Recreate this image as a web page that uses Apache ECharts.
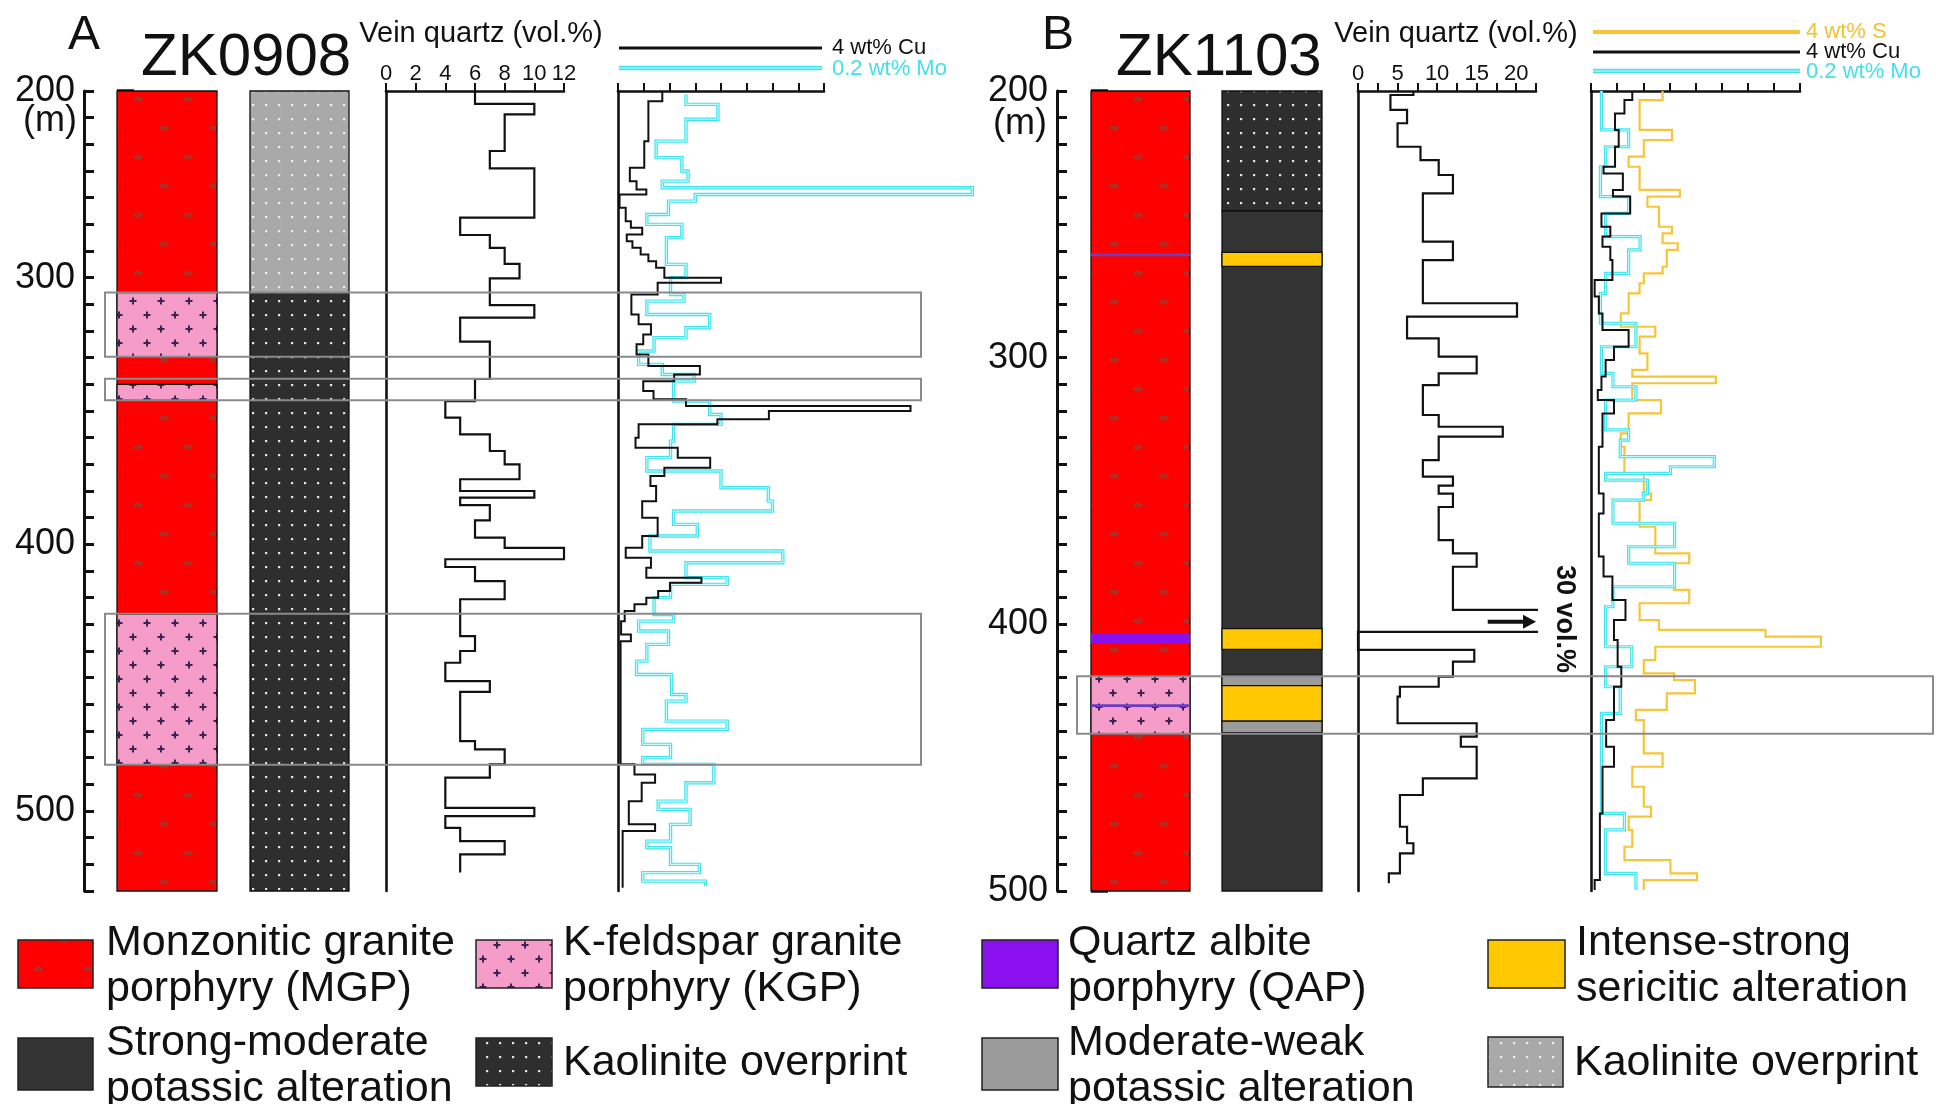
<!DOCTYPE html>
<html><head><meta charset="utf-8">
<script src="https://cdn.jsdelivr.net/npm/echarts@6/dist/echarts.min.js"></script>
<style>html,body{margin:0;padding:0;background:#fff}#c{width:1936px;height:1104px}</style>
</head><body><div id="c"></div>
<script>
// ---------------- DATA ----------------
// Depth axis labels (panel A top tick is labelled "200" in the original figure)
const depthTickA = [230, 300, 400, 500];
const depthTextA = ['200', '300', '400', '500'];
const depthTickB = [200, 300, 400, 500];
const depthTextB = ['200', '300', '400', '500'];

// Lithology / alteration columns (top, bottom, type)
const litA_top = [230, 305.6, 340, 426.3];
const litA_bot = [530, 329.7, 346, 482.7];
const litA_type = ['MGP', 'KGP', 'KGP', 'KGP'];
const altA_top = [230, 305.6];
const altA_bot = [305.6, 530];
const altA_type = ['kaolLight', 'kaolDark'];
const litB_top = [200, 260.8, 403.5, 419.5, 430];
const litB_bot = [500, 262.0, 407.0, 441.0, 431];
const litB_type = ['MGP', 'QAP2', 'QAP', 'KGP', 'QAP2'];
const altB_top = [200, 245, 260.5, 401.6, 419.1, 423, 436.3];
const altB_bot = [245, 500, 265.8, 409.4, 423, 436.3, 440.6];
const altB_type = ['kaolDark', 'strongK', 'seri', 'seri', 'weakK', 'seri', 'weakK'];

// Highlight boxes (depth ranges)
const boxA_top = [305.6, 337.9, 426.0];
const boxA_bot = [329.7, 346.0, 482.7];
const boxB_top = [419.5];
const boxB_bot = [441.0];

// Vein quartz ZK0908 (vol.%) : depth boundaries and interval values
const qA_depth = [230, 234.8, 238.8, 252.5, 259, 277.5, 284, 288.8, 294.8, 300.3, 310.3, 315, 324, 338, 346.3, 352.5, 358.8, 365, 370, 375.6, 380, 382.5, 385.3, 391, 397.5, 401.3, 405.6, 408.5, 413.8, 420.6, 434.4, 440, 444.4, 451.3, 455.3, 473.8, 476.9, 482.5, 487.5, 498.8, 501.9, 506.3, 511.3, 516.3, 523.1];
const qA_val = [6, 10, 8, 7, 10, 5, 7, 8, 9, 7, 10, 5, 7, 6, 4, 5, 7, 8, 9, 5, 10, 5, 7, 6, 8, 12, 4, 6, 8, 5, 6, 5, 4, 7, 5, 6, 8, 7, 4, 10, 4, 5, 8, 5];

// Cu ZK0908 (wt%)
const cuA_depth = [230, 233.8, 248.8, 258.8, 263.8, 266.9, 268.8, 273.8, 278.8, 281.3, 283.8, 286.3, 288.8, 291.3, 293.8, 296.3, 300, 301.9, 306.3, 313.8, 317.5, 321.3, 325, 328.8, 333.1, 336.3, 338.8, 342.5, 345.6, 348.1, 350, 353.1, 355, 360, 363.8, 367.5, 371.3, 374.4, 378.1, 383.8, 390, 396.9, 401.3, 405, 408.8, 412.5, 414.4, 417.5, 420, 422.5, 425, 428.8, 433.8, 436.3, 482.5, 486.3, 489.4, 496.3, 505, 507.5, 528.8];
const cuA_val = [0.86, 0.59, 0.51, 0.23, 0.36, 0.55, 0.03, 0.15, 0.25, 0.47, 0.17, 0.28, 0.44, 0.59, 0.74, 0.90, 2.0, 0.77, 0.26, 0.40, 0.64, 0.49, 0.36, 0.59, 1.59, 1.09, 0.49, 0.69, 1.32, 5.68, 2.93, 1.93, 0.40, 0.34, 1.16, 1.79, 0.90, 0.63, 0.74, 0.47, 0.77, 0.47, 0.15, 0.64, 0.55, 1.62, 1.01, 0.78, 0.55, 0.32, 0.13, 0.06, 0.25, 0.05, 0.32, 0.72, 0.46, 0.21, 0.72, 0.09];

// Mo ZK0908 (wt%)
const moA_depth = [231.3, 235, 240.6, 248.8, 255, 260, 263.8, 266.3, 268.8, 271.3, 276.3, 280, 285, 295, 300, 306.3, 308.8, 313.8, 318.8, 322.5, 327.5, 332.5, 336.3, 338.8, 346.3, 351.3, 355, 361.3, 367.5, 372.5, 378.8, 383.8, 387.5, 392.5, 396.9, 402.5, 406.9, 412.5, 415, 420, 426.3, 428.8, 432.5, 437.5, 443.8, 448.8, 456.3, 458.8, 466.3, 469.4, 475, 480, 482.5, 489.4, 496.3, 499.4, 505, 511.3, 513.8, 520, 523.1, 526.3, 528.1];
const moA_val = [0.066, 0.097, 0.066, 0.037, 0.062, 0.068, 0.043, 0.344, 0.075, 0.049, 0.028, 0.062, 0.047, 0.066, 0.051, 0.064, 0.028, 0.089, 0.066, 0.035, 0.020, 0.043, 0.074, 0.054, 0.089, 0.100, 0.054, 0.051, 0.028, 0.100, 0.146, 0.150, 0.054, 0.077, 0.031, 0.160, 0.066, 0.106, 0.051, 0.035, 0.054, 0.020, 0.049, 0.028, 0.018, 0.052, 0.066, 0.047, 0.106, 0.024, 0.051, 0.024, 0.093, 0.066, 0.039, 0.070, 0.051, 0.028, 0.051, 0.079, 0.024, 0.085];

// Vein quartz ZK1103 (vol.%)
const qB_depth = [200, 201.5, 207.1, 212.1, 220.9, 225.9, 231.5, 238.4, 256.5, 263.4, 279.6, 284.6, 292.8, 299.6, 305.9, 310.3, 321.5, 325.9, 329.6, 338.4, 344.6, 348, 351, 356, 368.4, 373.4, 378.4, 394.6, 402.8, 409.6, 414, 419.6, 423.4, 427.1, 437.1, 442.1, 445.9, 457.8, 464, 475.9, 482.1, 485.9, 493.4, 497.1];
const qB_val = [7, 4.1, 6.2, 5, 7.9, 10.2, 12, 8.2, 12, 8.2, 20.1, 6.2, 10.2, 15, 10.2, 8.2, 10.2, 18.3, 10.2, 8.2, 12, 10.2, 12, 10.2, 12, 15, 12, 30, 0, 14.7, 12, 10.2, 5.3, 5, 15, 13, 15, 8.2, 5.3, 6.2, 7, 5.3, 3.9];
const qB_arrowDepth = 399;

// Cu ZK1103 (wt%)
const cuB_depth = [200, 203.4, 208.4, 214.6, 220.9, 228.4, 230.9, 237.1, 239.6, 245.9, 250.9, 254.6, 258.4, 263.4, 270.9, 277.1, 283.4, 289.6, 295.9, 300.9, 307.1, 312.1, 315.9, 320.9, 333.4, 350.9, 358.4, 374.6, 382.1, 390.9, 398.4, 405.9, 415.9, 423.4, 435.9, 445.9, 453.4, 470.9, 495.9, 499.6];
const cuB_val = [0.79, 0.64, 0.46, 0.53, 0.46, 0.24, 0.61, 0.42, 0.75, 0.20, 0.37, 0.22, 0.37, 0.41, 0.07, 0.15, 0.22, 0.72, 0.44, 0.28, 0.20, 0.13, 0.44, 0.22, 0.15, 0.24, 0.15, 0.24, 0.41, 0.66, 0.44, 0.51, 0.58, 0.44, 0.29, 0.44, 0.22, 0.17, 0.07];

// Mo ZK1103 (wt%)
const moB_depth = [200, 214.6, 220.9, 228.4, 239.6, 245.9, 254.6, 259.6, 268.4, 275.9, 287.1, 295.9, 305.9, 310.9, 315.9, 327.1, 330.9, 337.1, 340.9, 343.4, 345.9, 350.9, 353.4, 362.1, 370.9, 377.1, 385.9, 393.4, 408.4, 415.9, 423.4, 433.4, 470.9, 477.1, 493.4, 499.6];
const moB_val = [0.010, 0.036, 0.014, 0.009, 0.036, 0.014, 0.047, 0.036, 0.014, 0.009, 0.043, 0.010, 0.021, 0.043, 0.014, 0.036, 0.028, 0.118, 0.076, 0.014, 0.054, 0.050, 0.021, 0.080, 0.036, 0.080, 0.021, 0.014, 0.039, 0.014, 0.028, 0.010, 0.032, 0.014, 0.043];

// S ZK1103 (wt%)
const sB_depth = [200, 203.4, 214.6, 218.4, 224.6, 228.4, 237.1, 239.6, 243.4, 250.9, 253.4, 257.1, 259.6, 265.9, 268.4, 272.1, 275.9, 283.4, 288.4, 292.1, 298.4, 304.6, 307.1, 309.6, 315.9, 320.9, 328.4, 333.4, 343.4, 350.9, 353.4, 363.4, 373.4, 377.1, 387.1, 392.1, 398.4, 402.1, 404.6, 408.4, 413.4, 418.4, 420.9, 425.9, 432.1, 435.9, 448.4, 453.4, 460.9, 468.4, 472.1, 477.1, 483.4, 488.4, 493.4, 495.9, 499.6];
const sB_val = [1.37, 0.93, 1.55, 1.01, 0.72, 0.93, 1.70, 1.08, 1.30, 1.55, 1.37, 1.66, 1.45, 1.37, 1.01, 0.93, 0.72, 0.57, 1.23, 0.93, 1.08, 0.79, 2.39, 0.79, 1.34, 0.72, 0.57, 0.64, 1.01, 1.15, 0.93, 1.23, 1.88, 1.59, 1.88, 0.93, 1.30, 3.34, 4.40, 1.23, 1.01, 1.59, 1.99, 1.45, 0.86, 1.01, 1.37, 0.79, 1.01, 1.15, 0.72, 0.79, 0.64, 1.52, 2.03, 1.01];

// ---------------- STYLE ----------------
const FONT = '"Liberation Sans", Arial, Helvetica, sans-serif';
function pat(w, h, bg, fn) {
  const c = document.createElement('canvas'); c.width = w; c.height = h;
  const x = c.getContext('2d'); x.fillStyle = bg; x.fillRect(0, 0, w, h); if (fn) fn(x);
  return { image: c, repeat: 'repeat' };
}
const FILL = {
  MGP: pat(50, 58, '#ff0000', x => { x.fillStyle = 'rgba(125,75,60,0.6)'; [[14, 12], [38, 41]].forEach(([a, b]) => { x.beginPath(); x.ellipse(a, b, 5, 2.6, 0, 0, Math.PI * 2); x.fill(); }); }),
  KGP: pat(28, 28, '#f59cc8', x => { x.strokeStyle = '#3c2456'; x.lineWidth = 2; [[7, 7], [21, 21]].forEach(([a, b]) => { x.beginPath(); x.moveTo(a - 3.5, b); x.lineTo(a + 3.5, b); x.moveTo(a, b - 3.5); x.lineTo(a, b + 3.5); x.stroke(); }); }),
  QAP: '#8a10f0',
  QAP2: '#6a3cc8',
  kaolDark: pat(13, 14, '#2e2e2e', x => { x.fillStyle = '#e6e6e6'; x.fillRect(5, 6, 2.2, 2.2); }),
  kaolLight: pat(13, 14, '#a9a9a9', x => { x.fillStyle = '#eeeeee'; x.fillRect(5, 6, 2.2, 2.2); }),
  strongK: '#333333',
  weakK: '#9b9b9b',
  seri: '#ffc800'
};
const NOSTROKE = { QAP: 1, QAP2: 1 };

// Step profile; intervals whose value runs past the axis end are left open on the right
function steps(depths, vals, maxV) {
  const pts = [];
  for (let i = 0; i < vals.length; i++) {
    pts.push([vals[i], depths[i]]);
    if (maxV != null && vals[i] > maxV) pts.push('-');
    pts.push([vals[i], depths[i + 1]]);
  }
  return pts;
}
function colData(tops, bots) { return tops.map((t, i) => [0, t, bots[i], i]); }
function colRender(types) {
  return function (params, api) {
    const t = types[api.value(3)];
    const p0 = api.coord([0, api.value(1)]), p1 = api.coord([1, api.value(2)]);
    return { type: 'rect', shape: { x: p0[0], y: p0[1], width: p1[0] - p0[0], height: p1[1] - p0[1] },
      style: { fill: FILL[t], stroke: NOSTROKE[t] ? null : '#111', lineWidth: NOSTROKE[t] ? 0 : 1.3 } };
  };
}

const TOP = 91, H = 800;
const grids = [
  { left: 117, width: 100 },  // 0 lithology A
  { left: 250, width: 99 },   // 1 alteration A
  { left: 386, width: 178 },  // 2 quartz A
  { left: 618, width: 206 },  // 3 Cu/Mo A (axis)
  { left: 1091, width: 99 },  // 4 lithology B
  { left: 1222, width: 100 }, // 5 alteration B
  { left: 1358, width: 178 }, // 6 quartz B
  { left: 1591, width: 209 }, // 7 Cu/Mo/S B (axis)
  { left: 618, width: 412 },  // 8 Cu/Mo A plotting area (double range, lets spikes overrun the axis)
  { left: 1591, width: 418 }  // 9 Cu/Mo/S B plotting area
].map(g => Object.assign({ top: TOP, height: H, containLabel: false, outerBoundsMode: 'none', show: false }, g));

const axisLine = { show: true, lineStyle: { color: '#111', width: 2.6 } };
function hiddenX(gi, max) { return { type: 'value', gridIndex: gi, min: 0, max: max, show: false }; }
function topX(gi, max, interval, labels, fmt) {
  return { type: 'value', gridIndex: gi, position: 'top', min: 0, max: max, interval: interval,
    axisLine: axisLine, splitLine: { show: false },
    axisTick: { show: true, inside: false, length: 8, lineStyle: { color: '#111', width: 2 } },
    axisLabel: { show: labels, fontSize: 22, color: '#111', fontFamily: FONT, margin: 6, formatter: fmt, showMinLabel: true, showMaxLabel: true } };
}
function depthY(gi, min, max, opts) {
  return Object.assign({ type: 'value', gridIndex: gi, inverse: true, min: min, max: max, interval: 10,
    splitLine: { show: false }, axisLine: { show: false }, axisTick: { show: false }, axisLabel: { show: false } }, opts || {});
}
function depthMinor(gi, min, max, ticks, texts, offset) {
  return depthY(gi, min, max, { position: 'left', offset: offset,
    axisLine: { show: true, onZero: false, lineStyle: { color: '#111', width: 3 } },
    axisTick: { show: true, inside: true, length: 10, lineStyle: { color: '#111', width: 3 } },
    axisLabel: { show: true, inside: false, margin: 9, fontSize: 36, color: '#111', fontFamily: FONT,
      formatter: v => { const i = ticks.indexOf(Math.round(v)); return i >= 0 ? texts[i] : ''; } } });
}
function depthMajor(gi, min, max, ticks, offset) {
  return depthY(gi, min, max, { position: 'left', offset: offset,
    axisTick: { show: true, inside: true, length: 17, customValues: ticks, lineStyle: { color: '#111', width: 3.5 } } });
}
function leftLine(gi, min, max) {
  return depthY(gi, min, max, { position: 'left', axisLine: { show: true, onZero: false, lineStyle: { color: '#111', width: 2.6 } } });
}

const xAxes = [
  hiddenX(0, 1), hiddenX(1, 1),                                   // 0,1
  topX(2, 12, 2, true),                                           // 2 quartz A
  topX(3, 4, 0.5, false),                                         // 3 Cu A axis (4 wt%)
  hiddenX(3, 0.2),                                                // 4 (unused)
  hiddenX(4, 1), hiddenX(5, 1),                                   // 5,6
  topX(6, 22.5, 2.5, true, v => (Math.abs(v % 5) < 1e-6 ? String(v) : '')), // 7 quartz B
  topX(7, 4, 0.5, false),                                         // 8 Cu/S B axis
  hiddenX(7, 0.2),                                                // 9 (unused)
  hiddenX(8, 8), hiddenX(8, 0.4),                                 // 10 Cu A, 11 Mo A
  hiddenX(9, 8), hiddenX(9, 0.4)                                  // 12 Cu/S B, 13 Mo B
];
const yAxes = [
  depthMinor(0, 230, 530, depthTickA, depthTextA, 33),   // 0
  depthMajor(0, 230, 530, depthTickA, 33),               // 1
  depthY(1, 230, 530, { show: false }),                  // 2
  leftLine(2, 230, 530),                                 // 3
  leftLine(3, 230, 530),                                 // 4
  depthMinor(4, 200, 500, depthTickB, depthTextB, 34),   // 5
  depthMajor(4, 200, 500, depthTickB, 34),               // 6
  depthY(5, 200, 500, { show: false }),                  // 7
  leftLine(6, 200, 500),                                 // 8
  leftLine(7, 200, 500),                                 // 9
  depthY(8, 230, 530, { show: false }),                  // 10
  depthY(9, 200, 500, { show: false })                   // 11
];

function colSeries(xi, yi, tops, bots, types) {
  return { type: 'custom', xAxisIndex: xi, yAxisIndex: yi, data: colData(tops, bots), encode: { x: 0, y: [1, 2] },
    renderItem: colRender(types), silent: true, animation: false, z: 2 };
}
function stepSeries(name, xi, yi, pts, color, width, z) {
  return { name: name, type: 'line', xAxisIndex: xi, yAxisIndex: yi, data: pts, symbol: 'none', showSymbol: false, connectNulls: false,
    lineStyle: { color: color, width: width, join: 'miter' }, clip: false, silent: true, animation: false, z: z || 3 };
}
const CYAN = '#3fe3ee', CYAN_IN = '#cdfbfd', YEL = '#f6c53a';

const series = [
  colSeries(0, 0, litA_top, litA_bot, litA_type),
  colSeries(1, 2, altA_top, altA_bot, altA_type),
  stepSeries('Vein quartz A', 2, 3, steps(qA_depth, qA_val), '#111', 2.2),
  stepSeries('Mo A', 11, 10, steps(moA_depth, moA_val), CYAN, 3.4, 3),
  stepSeries('Mo A inner', 11, 10, steps(moA_depth, moA_val), CYAN_IN, 1.1, 4),
  stepSeries('Cu A', 10, 10, steps(cuA_depth, cuA_val), '#111', 2, 5),
  colSeries(5, 5, litB_top, litB_bot, litB_type),
  colSeries(6, 7, altB_top, altB_bot, altB_type),
  stepSeries('Vein quartz B', 7, 8, steps(qB_depth, qB_val, 22.5), '#111', 2.2),
  stepSeries('S B', 12, 11, steps(sB_depth, sB_val), YEL, 2.2, 3),
  stepSeries('Mo B', 13, 11, steps(moB_depth, moB_val), CYAN, 3.2, 4),
  stepSeries('Mo B inner', 13, 11, steps(moB_depth, moB_val), CYAN_IN, 1, 4),
  stepSeries('Cu B', 12, 11, steps(cuB_depth, cuB_val), '#111', 2, 5)
];

const chart = echarts.init(document.getElementById('c'), null, { renderer: 'canvas' });
chart.setOption({
  animation: false,
  backgroundColor: '#ffffff',
  textStyle: { fontFamily: FONT },
  grid: grids, xAxis: xAxes, yAxis: yAxes, series: series
});

// ---------------- ANNOTATIONS ----------------
const yPixA = v => chart.convertToPixel({ yAxisIndex: 0 }, v);
const yPixB = v => chart.convertToPixel({ yAxisIndex: 5 }, v);
function txt(text, x, y, size, opts) {
  return Object.assign({ type: 'text', x: x, y: y, z: 50,
    style: Object.assign({ text: text, fontSize: size, fontFamily: FONT, fill: '#111', align: 'left', verticalAlign: 'middle' }, (opts && opts.style) || {}) },
    opts && opts.el ? opts.el : {});
}
function hline(x1, x2, y, color, w) { return { type: 'line', z: 50, shape: { x1: x1, y1: y, x2: x2, y2: y }, style: { stroke: color, lineWidth: w } }; }
function box(x1, x2, y1, y2) { return { type: 'rect', z: 40, shape: { x: x1, y: y1, width: x2 - x1, height: y2 - y1 }, style: { fill: null, stroke: '#8a8a8a', lineWidth: 2 } }; }
function swatch(x, y, w, h, fill) { return { type: 'rect', z: 50, shape: { x: x, y: y, width: w, height: h }, style: { fill: fill, stroke: '#222', lineWidth: 1.5 } }; }

const G = [];
// Titles
G.push(txt('A', 68, 36, 48));
G.push(txt('ZK0908', 141, 58, 60));
G.push(txt('B', 1042, 36, 48));
G.push(txt('ZK1103', 1116, 58, 60));
G.push(txt('Vein quartz (vol.%)', 481, 34, 29, { style: { align: 'center' } }));
G.push(txt('Vein quartz (vol.%)', 1456, 34, 29, { style: { align: 'center' } }));
G.push(txt('(m)', 77, 121, 36, { style: { align: 'right' } }));
G.push(txt('(m)', 1047, 124, 36, { style: { align: 'right' } }));

// Scale bars for geochemistry
G.push(hline(619, 822, 48, '#111', 3));
G.push(txt('4 wt% Cu', 832, 48, 22));
G.push(hline(619, 822, 68, CYAN, 4.5));
G.push(hline(619, 822, 68, CYAN_IN, 1.2));
G.push(txt('0.2 wt% Mo', 832, 69, 22, { style: { fill: '#44e0ea' } }));
G.push(hline(1593, 1800, 32, YEL, 4));
G.push(txt('4 wt% S', 1806, 32, 22, { style: { fill: '#f4c030' } }));
G.push(hline(1593, 1800, 52, '#111', 3));
G.push(txt('4 wt% Cu', 1806, 52, 22));
G.push(hline(1593, 1800, 71, CYAN, 4.5));
G.push(hline(1593, 1800, 71, CYAN_IN, 1.2));
G.push(txt('0.2 wt% Mo', 1806, 72, 22, { style: { fill: '#44e0ea' } }));

// Highlight boxes
boxA_top.forEach((t, i) => G.push(box(105, 921, yPixA(t), yPixA(boxA_bot[i]))));
boxB_top.forEach((t, i) => G.push(box(1077, 1933, yPixB(t), yPixB(boxB_bot[i]))));

// 30 vol.% arrow and label
const ay = chart.convertToPixel({ yAxisIndex: 8 }, qB_arrowDepth);
const ax1 = chart.convertToPixel({ xAxisIndex: 7 }, 16.4), ax2 = chart.convertToPixel({ xAxisIndex: 7 }, 22.5);
G.push({ type: 'line', z: 50, shape: { x1: ax1, y1: ay, x2: ax2 - 10, y2: ay }, style: { stroke: '#111', lineWidth: 4 } });
G.push({ type: 'polygon', z: 50, shape: { points: [[ax2 - 13, ay - 7], [ax2, ay], [ax2 - 13, ay + 7]] }, style: { fill: '#111' } });
G.push({ type: 'text', x: 1564, y: 619, rotation: -Math.PI / 2, z: 50,
  style: { text: '30 vol.%', fontSize: 27, fontWeight: 'bold', fontFamily: FONT, fill: '#111', align: 'center', verticalAlign: 'middle' } });

// Bottom legend
const LF = 43, LH = 46;
function legText(t, x, y) { return txt(t, x, y, LF, { style: { lineHeight: LH } }); }
G.push(swatch(18, 940, 75, 48, FILL.MGP));
G.push(legText('Monzonitic granite\nporphyry (MGP)', 106, 966));
G.push(swatch(476, 940, 76, 48, FILL.KGP));
G.push(legText('K-feldspar granite\nporphyry (KGP)', 563, 966));
G.push(swatch(18, 1038, 75, 52, FILL.strongK));
G.push(legText('Strong-moderate\npotassic alteration', 106, 1066));
G.push(swatch(476, 1038, 76, 48, FILL.kaolDark));
G.push(legText('Kaolinite overprint', 563, 1063));
G.push(swatch(982, 940, 76, 48, FILL.QAP));
G.push(legText('Quartz albite\nporphyry (QAP)', 1068, 966));
G.push(swatch(1488, 940, 77, 48, FILL.seri));
G.push(legText('Intense-strong\nsericitic alteration', 1576, 966));
G.push(swatch(982, 1038, 76, 52, FILL.weakK));
G.push(legText('Moderate-weak\npotassic alteration', 1068, 1066));
G.push(swatch(1488, 1037, 75, 50, FILL.kaolLight));
G.push(legText('Kaolinite overprint', 1574, 1063));

chart.setOption({ graphic: { elements: G } });
</script></body></html>
